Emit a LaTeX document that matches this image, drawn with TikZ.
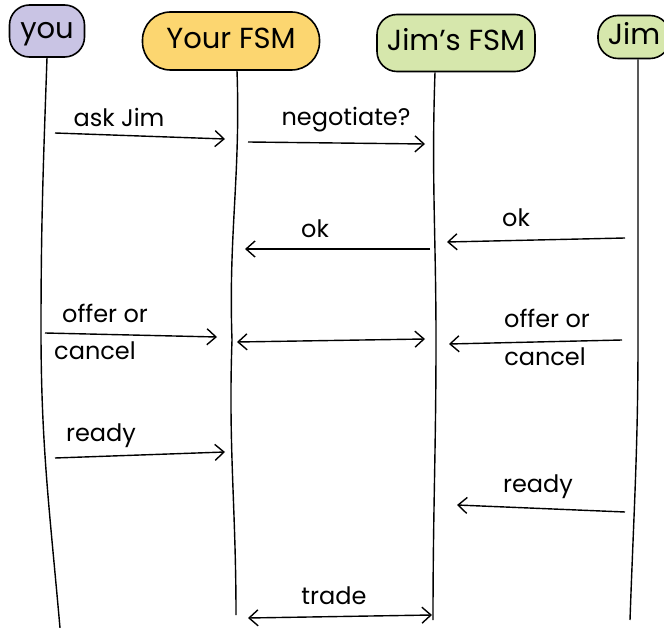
\documentclass[tikz,border=0pt]{standalone}
\usepackage{fontspec}
\setmainfont{Poppins}
\usetikzlibrary{arrows.meta,positioning,calc}
\definecolor{lila}{RGB}{201,196,228}
\definecolor{sarga}{RGB}{252,214,112}
\definecolor{zold}{RGB}{214,231,172}
\tikzset{
  fej/.style={draw,line width=1.6pt,rounded corners=20pt,inner sep=0pt,text height=22pt,text depth=6pt,
    font=\fontsize{29}{32}\selectfont},
  elet/.style={line width=1.4pt},
  uzen/.style={line width=1.4pt,-{Straight Barb[length=9pt,width=16pt]}},
  ketir/.style={line width=1.4pt,{Straight Barb[length=9pt,width=16pt]}-{Straight Barb[length=9pt,width=16pt]}},
  felirat/.style={inner sep=0pt,font=\fontsize{24}{28}\selectfont},
}

\begin{document}
\begin{tikzpicture}[x=1pt,y=-1pt]
  \useasboundingbox (0,0) rectangle (664,628);
  % fejlec
  \node[fej,fill=lila,minimum width=75pt,minimum height=52pt] (you) at (47,31) {you};
  \node[fej,fill=sarga,rounded corners=28pt,minimum width=177pt,minimum height=58pt] (yfsm) at (231,41) {Your FSM};
  \node[fej,fill=zold,minimum width=158pt,minimum height=57pt] (jfsm) at (456,43) {Jim’s FSM};
  \node[fej,fill=zold,minimum width=72pt,minimum height=43pt] (jim) at (634,37) {Jim};
  % eletvonalak
  \coordinate (youT) at ($(you.south)+(0,0)$);
  \coordinate (yfsmT) at ($(yfsm.south)+(6,0)$);
  \coordinate (jfsmT) at ($(jfsm.south)+(-21,0)$);
  \coordinate (jimT) at ($(jim.south)+(4,0)$);
  \coordinate (youM) at (41,330);  \coordinate (youV) at (60,628);
  \coordinate (yfsmM) at (232,340); \coordinate (yfsmV) at (236,615);
  \coordinate (jfsmM) at (436,340); \coordinate (jfsmV) at (433,620);
  \coordinate (jimM) at (638,340);  \coordinate (jimV) at (630,620);
  \draw[elet] (youT) to[out=-92,in=90] (youM) to[out=-90,in=95] (youV);
  \draw[elet] (yfsmT) to[out=-88,in=92] (yfsmM) to[out=-92,in=90] (yfsmV);
  \draw[elet] (jfsmT) to[out=-92,in=90] (jfsmM) to[out=-90,in=90] (jfsmV);
  \draw[elet] (jimT) to[out=-90,in=90] (jimM) to[out=-90,in=88] (jimV);
  % uzenetek
  \coordinate (a1) at (55,133);  \coordinate (b1) at (225,139);
  \coordinate (a2) at (248,142); \coordinate (b2) at (425,144);
  \coordinate (a3) at (625,238); \coordinate (b3) at (447,242);
  \coordinate (a4) at (430,249); \coordinate (b4) at (245,249);
  \coordinate (a5) at (45,333);  \coordinate (b5) at (217,337);
  \coordinate (a6) at (237,342); \coordinate (b6) at (425,339);
  \coordinate (a7) at (622,340); \coordinate (b7) at (449,344);
  \coordinate (a8) at (55,458);  \coordinate (b8) at (225,452);
  \coordinate (a9) at (625,512); \coordinate (b9) at (457,505);
  \coordinate (a10) at (248,618); \coordinate (b10) at (432,615);
  \draw[uzen] (a1) -- (b1);
  \draw[uzen] (a2) -- (b2);
  \draw[uzen] (a3) -- (b3);
  \draw[uzen] (a4) -- (b4);
  \draw[uzen] (a5) -- (b5);
  \draw[ketir] (a6) -- (b6);
  \draw[uzen] (a7) -- (b7);
  \draw[uzen] (a8) -- (b8);
  \draw[uzen] (a9) -- (b9);
  \draw[ketir] (a10) -- (b10);
  % feliratok
  \node[felirat] (askjim) at (119,117) {ask Jim};
  \node[felirat] (nego) at (346,120) {negotiate?};
  \node[felirat] (okj) at (516,218) {ok};
  \node[felirat] (oky) at (315,229) {ok};
  \node[felirat] (offy) at (105,313) {offer or};
  \node[felirat] (cany) at (95,351) {cancel};
  \node[felirat] (offj) at (547,318) {offer or};
  \node[felirat] (canj) at (545,357) {cancel};
  \node[felirat] (ready) at (101,436) {ready};
  \node[felirat] (readj) at (538,487) {ready};
  \node[felirat] (trade) at (334,596) {trade};
\end{tikzpicture}
\end{document}
